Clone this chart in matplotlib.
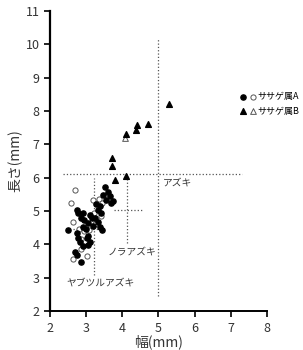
import matplotlib
matplotlib.use("Agg")
import matplotlib.pyplot as plt
from matplotlib.legend_handler import HandlerTuple

plt.rcParams['font.family'] = ['Noto Sans CJK JP', 'DejaVu Sans']

# ササゲ属A (filled / open circles): width, length (mm)
a_fill_x = [3.52, 3.61, 3.46, 3.66, 3.56, 3.70, 3.75, 3.38, 3.33, 3.42,
            2.74, 2.78, 2.92, 2.85, 2.95, 3.15, 3.25,
            2.50, 2.92, 3.00, 3.06, 3.33, 3.38, 3.43, 3.20,
            2.74, 2.78, 2.83, 3.01, 3.05, 3.10, 3.06, 2.90,
            2.69, 2.74, 2.87, 3.10, 3.28]
a_fill_y = [5.73, 5.56, 5.48, 5.45, 5.33, 5.25, 5.30, 5.15, 5.02, 4.95,
            5.03, 4.93, 4.93, 4.80, 4.72, 4.78, 4.80,
            4.43, 4.53, 4.45, 4.63, 4.68, 4.53, 4.43, 4.55,
            4.33, 4.18, 4.08, 4.18, 4.25, 4.08, 3.98, 3.95,
            3.78, 3.68, 3.48, 4.88, 5.20]
a_open_x = [2.69, 2.58, 3.18, 3.36, 3.43, 2.64, 3.15, 3.22, 3.09, 2.81,
            2.85, 2.87, 2.63, 3.01, 3.25, 2.95, 3.40]
a_open_y = [5.63, 5.23, 5.33, 5.35, 5.23, 4.68, 4.88, 4.95, 4.43, 4.45,
            4.15, 3.85, 3.55, 3.65, 4.60, 4.40, 4.85]

# ササゲ属B (filled / open triangles)
b_fill_x = [5.29, 4.72, 4.41, 4.39, 4.09, 3.72, 3.72, 3.80, 4.09]
b_fill_y = [8.20, 7.62, 7.58, 7.44, 7.32, 6.58, 6.36, 5.93, 6.05]
b_open_x = [4.07]
b_open_y = [7.18]

# reference ranges (dotted crosses): center and extents
ref_names = ['アズキ', 'ノラアズキ', 'ヤブツルアズキ']
ref_x = [5.0, 4.13, 3.23]
ref_y = [6.12, 5.02, 4.47]
ref_xrange = [(2.35, 7.3), (3.77, 4.56), (2.64, 3.55)]
ref_yrange = [(2.45, 10.2), (4.05, 6.1), (3.08, 6.0)]
label_pos = [(5.12, 5.85), (3.6, 3.8), (2.45, 2.85)]

fig = plt.figure(figsize=(3.03, 3.5), dpi=100)
ax = fig.add_axes([0.165, 0.111, 0.716, 0.858])

for cx, cy, xr, yr in zip(ref_x, ref_y, ref_xrange, ref_yrange):
    ax.plot([cx, cx], yr, ls=':', color='#555555', lw=0.9, zorder=1)
    ax.plot(xr, [cy, cy], ls=':', color='#555555', lw=0.9, zorder=1)

for name, (lx, ly) in zip(ref_names, label_pos):
    ax.text(lx, ly, name, fontsize=7, color='#333333', va='center', ha='left')

fc = ax.scatter(a_fill_x, a_fill_y, s=14, marker='o', color='black', zorder=3)
oc = ax.scatter(a_open_x, a_open_y, s=14, marker='o', facecolor='white',
                edgecolor='#555555', linewidths=0.7, zorder=2)
ft = ax.scatter(b_fill_x, b_fill_y, s=17, marker='^', color='black', zorder=3)
ot = ax.scatter(b_open_x, b_open_y, s=17, marker='^', facecolor='white',
                edgecolor='#555555', linewidths=0.7, zorder=2)

ax.legend([(fc, oc), (ft, ot)], ['ササゲ属A', 'ササゲ属B'],
          handler_map={tuple: HandlerTuple(ndivide=None, pad=1.0)},
          loc='center left', bbox_to_anchor=(0.885, 0.69), frameon=False,
          fontsize=6.5, handlelength=1.3, handletextpad=0.4, labelspacing=0.6,
          borderaxespad=0, borderpad=0)

ax.set_xlim(2, 8)
ax.set_ylim(2, 11)
ax.set_xticks(range(2, 9))
ax.set_yticks(range(2, 12))
ax.spines['top'].set_visible(False)
ax.spines['right'].set_visible(False)
ax.spines['left'].set_linewidth(1.6)
ax.spines['bottom'].set_linewidth(1.4)
ax.tick_params(direction='out', length=4, width=1.2, labelsize=9,
               labelcolor='#333333')
ax.set_xlabel('幅(mm)', fontsize=10, labelpad=0, color='#333333')
ax.set_ylabel('長さ(mm)', fontsize=10, labelpad=2, color='#333333')

fig.savefig('out.png', dpi=100)
